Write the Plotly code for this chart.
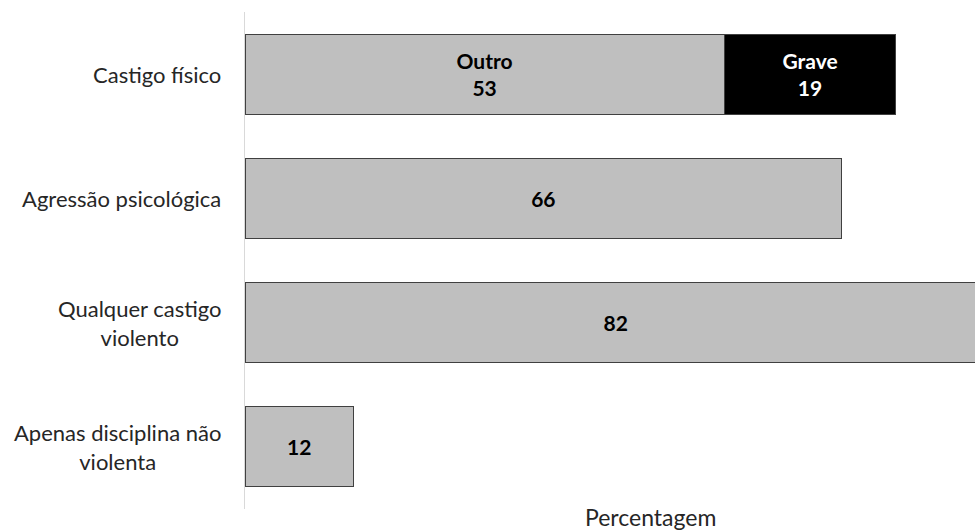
import plotly.graph_objects as go

categories = ["Castigo físico", "Agressão psicológica", "Qualquer castigo<br>violento", "Apenas disciplina não<br>violenta"]
outro_values = [53, 66, 82, 12]
outro_text = ["Outro<br>53", "66", "82", "12"]
grave_values = [19, None, None, None]
grave_text = ["Grave<br>19", "", "", ""]
x_title = "Percentagem"

FONT = "Lato"
fig = go.Figure()
fig.add_trace(go.Bar(
    y=categories, x=outro_values, orientation="h",
    marker=dict(color="#bfbfbf", line=dict(color="#404040", width=1)),
    text=outro_text, textposition="inside", insidetextanchor="middle", textangle=0,
    textfont=dict(family=FONT, size=21, color="black", weight="bold"),
    hoverinfo="skip", showlegend=False,
))
fig.add_trace(go.Bar(
    y=categories, x=grave_values, orientation="h",
    marker=dict(color="#000000", line=dict(color="#404040", width=1)),
    text=grave_text, textposition="inside", insidetextanchor="middle", textangle=0,
    textfont=dict(family=FONT, size=21, color="white", weight="bold"),
    hoverinfo="skip", showlegend=False,
))

for c in categories:
    fig.add_annotation(x=0, xref="paper", y=c, yref="y", text=c, showarrow=False,
                       xanchor="right", align="center", xshift=-22,
                       font=dict(family=FONT, size=22, color="#262626"))

fig.add_annotation(x=0.556, xref="paper", y=0, yref="paper", text=x_title, showarrow=False,
                   xanchor="center", yanchor="middle", yshift=-8,
                   font=dict(family=FONT, size=23, color="#262626"))

fig.update_layout(
    width=975, height=532, barmode="stack", bargap=0.356,
    margin=dict(l=245, r=0, t=12, b=23),
    plot_bgcolor="white", paper_bgcolor="white",
    uniformtext=dict(mode=False),
)
fig.update_xaxes(range=[0, 80.75], showgrid=False, zeroline=False, showticklabels=False, ticks="", showline=False)
fig.update_yaxes(autorange="reversed", showgrid=False, zeroline=False, showticklabels=False, ticks="",
                 showline=True, linecolor="#d9d9d9", linewidth=1)

fig.write_html("out.html", config={"displayModeBar": False},
               post_script="document.body.style.margin='0px';")
